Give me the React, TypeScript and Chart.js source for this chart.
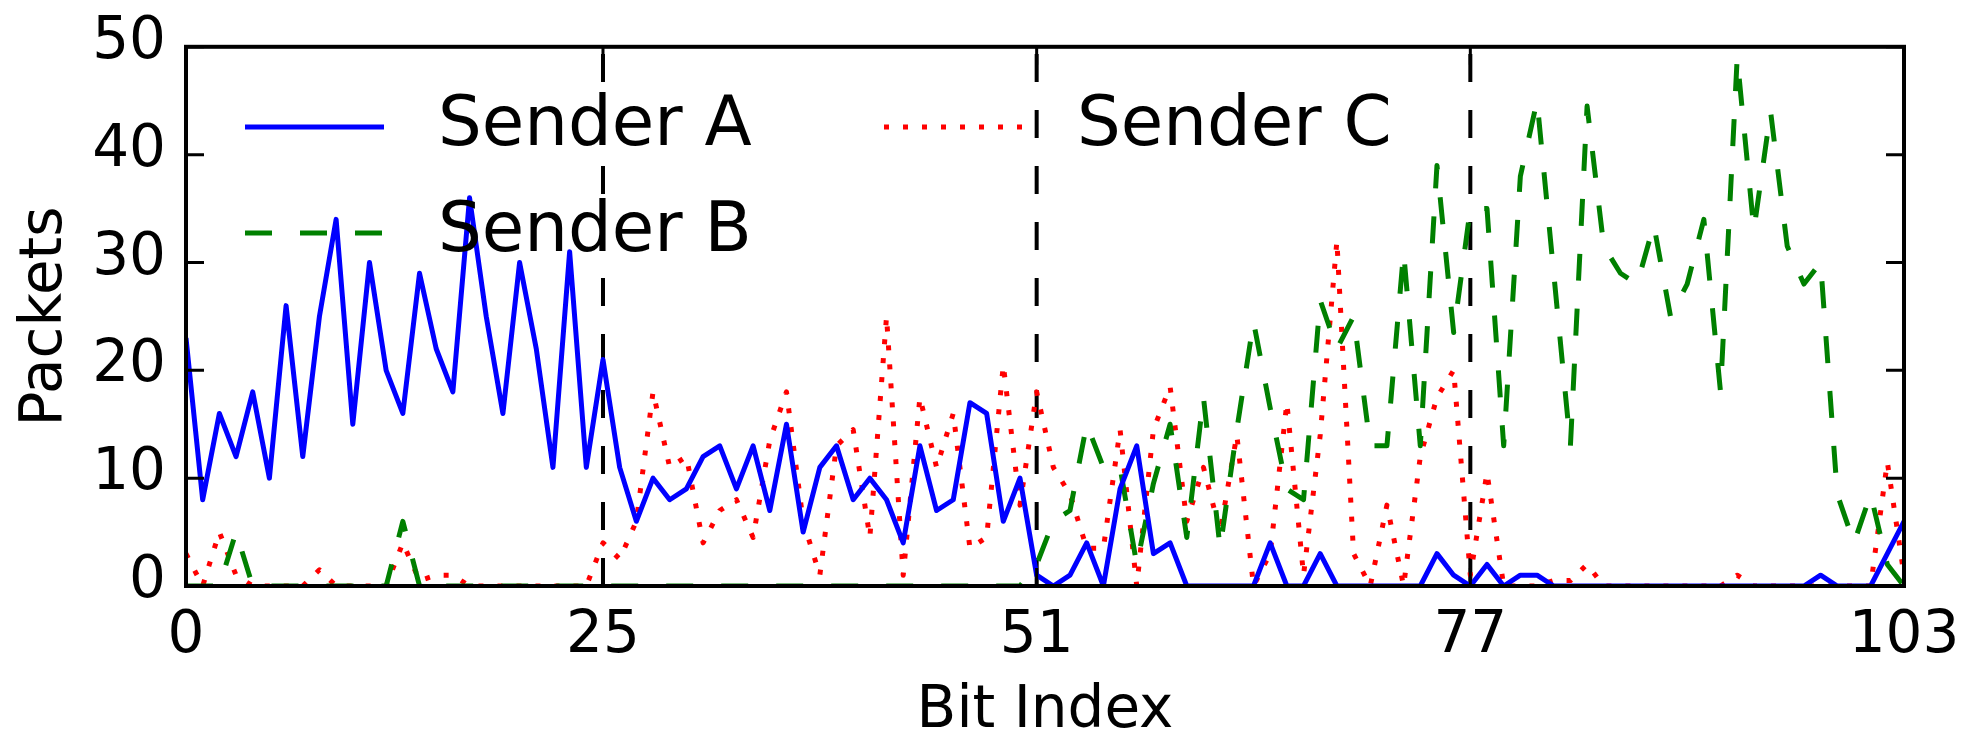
import React, { useEffect, useRef } from "react";
import { Chart, registerables } from "chart.js";

Chart.register(...registerables);

// ---- data ----
const xTicks = [0, 25, 51, 77, 103];
const yTicks = [0, 10, 20, 30, 40, 50];
const boundaries = [25, 51, 77];
const seriesNames = ["Sender A", "Sender B", "Sender C"];

const senderA = [
  23, 8, 16, 12, 18, 10, 26, 12, 25, 34,
  15, 30, 20, 16, 29, 22, 18, 36, 25, 16,
  30, 22, 11, 31, 11, 21, 11, 6, 10, 8,
  9, 12, 13, 9, 13, 7, 15, 5, 11, 13,
  8, 10, 8, 4, 13, 7, 8, 17, 16, 6,
  10, 1, 0, 1, 4, 0, 9, 13, 3, 4,
  0, 0, 0, 0, 0, 4, 0, 0, 3, 0,
  0, 0, 0, 0, 0, 3, 1, 0, 2, 0,
  1, 1, 0, 0, 0, 0, 0, 0, 0, 0,
  0, 0, 0, 0, 0, 0, 0, 0, 1, 0,
  0, 0, 3, 6,
];

const senderB = [
  0, 0, 0, 5, 0, 0, 0, 0, 0, 0,
  0, 0, 0, 6, 0, 0, 0, 0, 0, 0,
  0, 0, 0, 0, 0, 0, 0, 0, 0, 0,
  0, 0, 0, 0, 0, 0, 0, 0, 0, 0,
  0, 0, 0, 0, 0, 0, 0, 0, 0, 0,
  0, 2, 6, 7, 15, 11, 11, 2, 9.5, 15,
  4.5, 17.5, 3.5, 14.5, 24.5, 16.5, 9, 8, 26.5, 22,
  25, 13, 13, 31, 13, 39, 23.5, 35, 35, 13,
  38, 45, 29, 13, 44.5, 31.5, 29, 28, 33.5, 25,
  28, 34, 18, 49, 33, 44, 31.5, 28, 30, 8.5,
  4, 8.5, 2, 0,
];

const senderC = [
  3, 0, 5, 1, 0, 0, 0, 0, 1.5, 0,
  0, 0, 0, 4, 0.5, 1, 1, 0, 0, 0,
  0, 0, 0, 0, 0, 4, 2.5, 6, 18, 11,
  12, 4, 7, 8, 4.5, 13.5, 18, 6, 1, 13,
  14.5, 4.5, 25, 1, 17.5, 11, 16, 3.5, 4.5, 20.5,
  7.5, 18, 11, 8.5, 3.5, 3.5, 14.5, 0, 14.5, 18.5,
  6, 11, 5, 14, 0, 3, 17, 1, 14, 32,
  3, 0, 7.5, 0, 12, 17.5, 20, 1, 10.5, 0,
  0, 0, 0.5, 0.5, 2, 0, 0, 0, 0, 0,
  0, 0, 0, 1, 0, 0, 0, 0, 0, 0,
  0, 0, 11.5, 1,
];

const FONT = "'DejaVu Sans', 'Liberation Sans', sans-serif";

const toPoints = (vals: number[]) => vals.map((v, i) => ({ x: i, y: v }));

const framePlugin = {
  id: "frameAndLegend",
  beforeDatasetsDraw(chart: any) {
    const { ctx, chartArea: a, scales } = chart;
    ctx.save();
    ctx.strokeStyle = "#000";
    ctx.lineWidth = 4;
    ctx.setLineDash([28, 28]);
    for (const b of boundaries) {
      const px = scales.x.getPixelForValue(b);
      ctx.beginPath();
      ctx.moveTo(px, a.bottom);
      ctx.lineTo(px, a.top);
      ctx.stroke();
    }
    ctx.restore();
  },
  afterDatasetsDraw(chart: any) {
    const { ctx, chartArea: a, scales } = chart;
    ctx.save();
    ctx.setLineDash([]);
    ctx.strokeStyle = "#000";
    // inward ticks
    ctx.lineWidth = 3;
    const tl = 18;
    for (const v of yTicks) {
      const py = scales.y.getPixelForValue(v);
      ctx.beginPath();
      ctx.moveTo(a.left, py);
      ctx.lineTo(a.left + tl, py);
      ctx.moveTo(a.right, py);
      ctx.lineTo(a.right - tl, py);
      ctx.stroke();
    }
    for (const v of xTicks) {
      const px = scales.x.getPixelForValue(v);
      ctx.beginPath();
      ctx.moveTo(px, a.bottom);
      ctx.lineTo(px, a.bottom - tl);
      ctx.moveTo(px, a.top);
      ctx.lineTo(px, a.top + tl);
      ctx.stroke();
    }
    // frame
    ctx.lineWidth = 4;
    ctx.strokeRect(a.left, a.top, a.right - a.left, a.bottom - a.top);

    // legend (2 columns, column-major)
    const items = [
      { ds: 0, x: 245, y: 127 },
      { ds: 1, x: 245, y: 233 },
      { ds: 2, x: 884, y: 127 },
    ];
    ctx.font = `69px ${FONT}`;
    ctx.textBaseline = "middle";
    ctx.textAlign = "left";
    for (const it of items) {
      const ds = chart.data.datasets[it.ds];
      ctx.save();
      ctx.strokeStyle = ds.borderColor;
      ctx.lineWidth = ds.borderWidth;
      ctx.setLineDash(ds.borderDash || []);
      ctx.beginPath();
      ctx.moveTo(it.x, it.y);
      ctx.lineTo(it.x + 139, it.y);
      ctx.stroke();
      ctx.restore();
      ctx.fillStyle = "#000";
      ctx.fillText(ds.label, it.x + 193, it.y);
    }
    ctx.restore();
  },
};

export default function App() {
  const canvasRef = useRef<HTMLCanvasElement | null>(null);

  useEffect(() => {
    document.body.style.margin = "0";
    const canvas = canvasRef.current;
    if (!canvas) return;
    const chart = new Chart(canvas, {
      type: "line",
      data: {
        datasets: [
          {
            label: seriesNames[0],
            data: toPoints(senderA),
            borderColor: "#0000ff",
            borderWidth: 5,
            pointRadius: 0,
            tension: 0,
            borderJoinStyle: "round",
            fill: false,
          },
          {
            label: seriesNames[1],
            data: toPoints(senderB),
            borderColor: "#008000",
            borderWidth: 5,
            borderDash: [27, 28],
            pointRadius: 0,
            tension: 0,
            borderJoinStyle: "round",
            fill: false,
          },
          {
            label: seriesNames[2],
            data: toPoints(senderC),
            borderColor: "#ff0000",
            borderWidth: 5,
            borderDash: [5, 14],
            pointRadius: 0,
            tension: 0,
            borderJoinStyle: "round",
            fill: false,
          },
        ],
      },
      options: {
        responsive: false,
        animation: false,
        devicePixelRatio: 1,
        layout: { padding: { top: 41, right: 69, left: 0, bottom: 0 } },
        plugins: { legend: { display: false }, tooltip: { enabled: false } },
        scales: {
          x: {
            type: "linear",
            min: 0,
            max: 103,
            grid: { display: false },
            border: { display: false },
            afterBuildTicks: (scale: any) => {
              scale.ticks = xTicks.map((v) => ({ value: v }));
            },
            afterFit: (scale: any) => {
              scale.height = 145;
            },
            ticks: {
              autoSkip: false,
              maxRotation: 0,
              padding: 8,
              color: "#000",
              font: { family: FONT, size: 58 },
              callback: (v: any) => String(v),
            },
            title: {
              display: true,
              text: "Bit Index",
              color: "#000",
              font: { family: FONT, size: 58 },
              padding: { top: 0, bottom: -16 },
            },
          },
          y: {
            min: 0,
            max: 50,
            grid: { display: false },
            border: { display: false },
            afterBuildTicks: (scale: any) => {
              scale.ticks = yTicks.map((v) => ({ value: v }));
            },
            afterFit: (scale: any) => {
              scale.width = 186;
            },
            ticks: {
              padding: 12,
              labelOffset: -4,
              color: "#000",
              font: { family: FONT, size: 58 },
              callback: (v: any) => String(v),
            },
            title: {
              display: true,
              text: "Packets",
              color: "#000",
              font: { family: FONT, size: 58 },
              padding: { top: 11, bottom: 0 },
            },
          },
        },
      },
      plugins: [framePlugin],
    } as any);
    return () => chart.destroy();
  }, []);

  return (
    <div style={{ width: 1973, height: 731, background: "#fff" }}>
      <canvas ref={canvasRef} width={1973} height={731} style={{ display: "block" }} />
    </div>
  );
}
